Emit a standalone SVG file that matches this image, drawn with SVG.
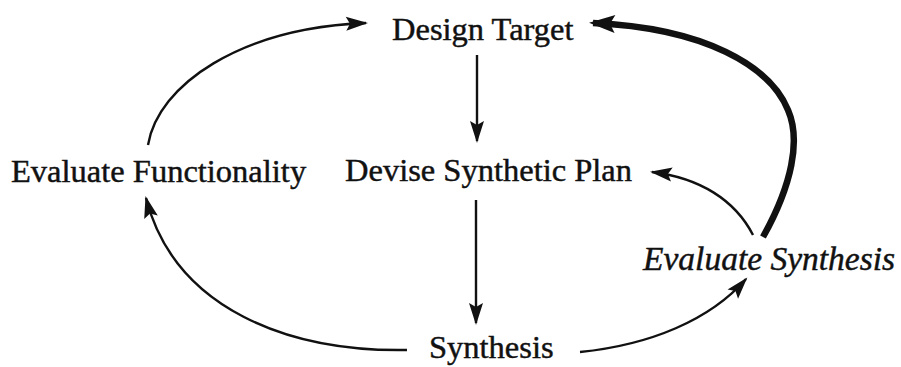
<svg xmlns="http://www.w3.org/2000/svg" width="901" height="367" viewBox="0 0 901 367">
<style>
text{font-family:"Liberation Serif","Times New Roman",serif;font-size:32.5px;fill:#111;stroke:#111;stroke-width:0.45}
.it{font-style:italic}
.c{fill:none;stroke:#111;stroke-width:2.4}
.thick{fill:none;stroke:#111;stroke-width:6.5}
</style>
<defs>
<marker id="ah" markerUnits="userSpaceOnUse" markerWidth="22" markerHeight="14" refX="20" refY="7" orient="auto" overflow="visible">
<path d="M0,0 L22,7 L0,14 L4,7 z" fill="#111"/>
</marker>
<marker id="ahb" markerUnits="userSpaceOnUse" markerWidth="26" markerHeight="18" refX="22" refY="9" orient="auto" overflow="visible">
<path d="M0,0 L26,9 L0,18 L5,9 z" fill="#111"/>
</marker>
</defs>
<g id="connectors">
<path class="c" d="M148,145 C158,85 240,28 366,23" marker-end="url(#ah)"/>
<path class="c" d="M477,55 L477,141" marker-end="url(#ah)"/>
<path class="c" d="M476,200 L476,323" marker-end="url(#ah)"/>
<path class="c" d="M407,350 C290,352 175,310 146,198" marker-end="url(#ah)"/>
<path class="c" d="M580,352 C650,345 710,320 746,279" marker-end="url(#ah)"/>
<path class="c" d="M753,235 C735,200 700,178 652,172" marker-end="url(#ah)"/>
<path class="thick" d="M763,237 C792,185 801,140 788,110 C770,66 705,28 593,23" marker-end="url(#ahb)"/>
</g>
<g id="design-target"><text x="392" y="40">Design Target</text></g>
<g id="evaluate-functionality"><text x="11" y="182">Evaluate Functionality</text></g>
<g id="devise-synthetic-plan"><text x="345" y="181">Devise Synthetic Plan</text></g>
<g id="synthesis"><text x="429" y="358">Synthesis</text></g>
<g id="evaluate-synthesis"><text class="it" x="643" y="270" style="font-size:33.5px">Evaluate Synthesis</text></g>
</svg>
